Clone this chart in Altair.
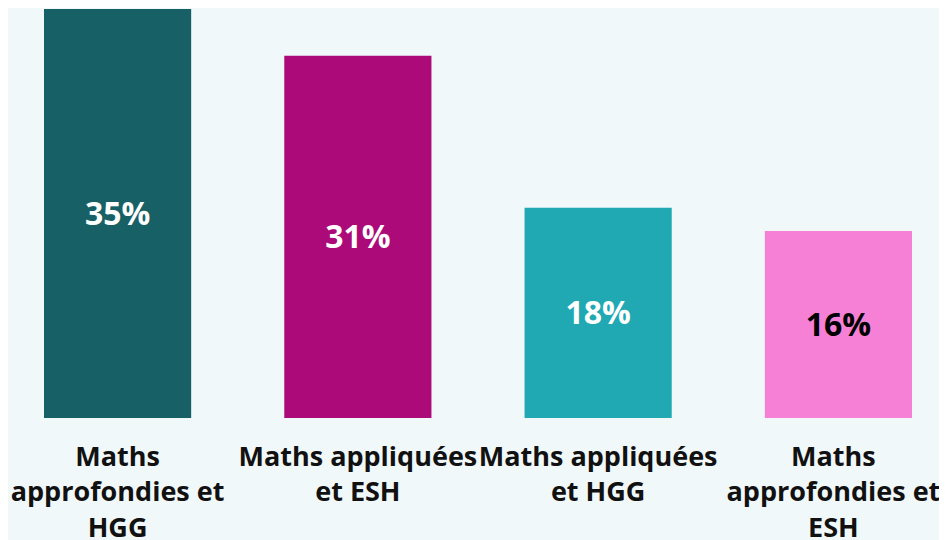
import altair as alt
import pandas as pd

categories = ["Maths|approfondies et|HGG", "Maths appliquées|et ESH", "Maths appliquées|et HGG", "Maths|approfondies et|ESH"]
values = [35, 31, 18, 16]
labels = ["35%", "31%", "18%", "16%"]
bar_colors = ["#176065", "#ab0a78", "#20a9b3", "#f780d7"]
text_colors = ["#ffffff", "#ffffff", "#ffffff", "#000000"]

df = pd.DataFrame({"cat": categories, "value": values, "label": labels,
                   "bc": bar_colors, "tc": text_colors})

x = alt.X("cat:N", sort=categories, title=None,
          scale=alt.Scale(range=[36, 904], paddingInner=0.3875, paddingOuter=0),
          axis=alt.Axis(labelExpr="split(datum.label, '|')", labelAngle=0,
                        labelFont="Open Sans", labelFontSize=27, labelFontWeight="bold",
                        labelColor="#111111", labelLineHeight=35.5, labelPadding=26,
                        labelOffset={"expr": "datum.index == 1 ? -5 : 0"},
                        domain=False, ticks=False, labelLimit=400, labelAlign="center"))
y = alt.Y("value:Q", scale=alt.Scale(domain=[0, 35], nice=False), axis=None)

bars = alt.Chart(df).mark_bar().encode(x=x, y=y, color=alt.Color("bc:N", scale=None))
txt = alt.Chart(df).transform_calculate(mid="datum.value/2").mark_text(
    font="Open Sans", fontSize=32, fontWeight="bold", baseline="middle", dy=1
).encode(x=x, y=alt.Y("mid:Q", scale=alt.Scale(domain=[0, 35], nice=False), axis=None),
         text="label:N", color=alt.Color("tc:N", scale=None))

chart = (bars + txt).properties(
    width=931, height=409,
    autosize=alt.AutoSizeParams(type="none"),
    padding={"top": 1, "left": 0, "right": 0, "bottom": 122},
    background="#f1f8fa",
).configure_view(stroke=None)

chart.save("out.html", embed_options={"renderer": "svg", "actions": False})
